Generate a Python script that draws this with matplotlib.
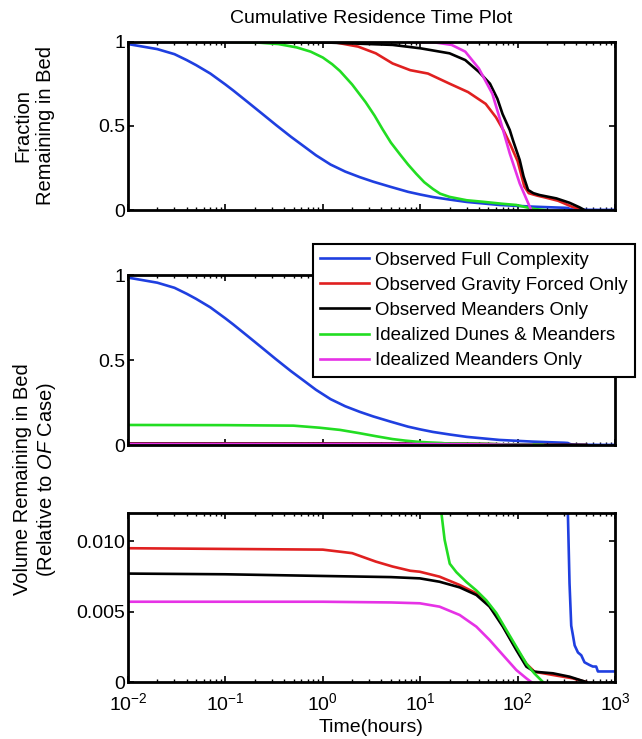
import matplotlib
matplotlib.use("Agg")
import matplotlib.pyplot as plt
from matplotlib.ticker import LogLocator, NullFormatter

plt.rcParams["font.family"] = ["Liberation Sans", "DejaVu Sans"]
plt.rcParams["mathtext.fontset"] = "custom"
plt.rcParams["mathtext.rm"] = "Liberation Sans"
plt.rcParams["mathtext.it"] = "Liberation Sans:italic"
plt.rcParams["mathtext.bf"] = "Liberation Sans:bold"

labels = ["Observed Full Complexity", "Observed Gravity Forced Only",
          "Observed Meanders Only", "Idealized Dunes & Meanders",
          "Idealized Meanders Only"]
colors = ["#1f3fe0", "#e02020", "#000000", "#22dd22", "#e632e6"]

# Observed full complexity is the reference case: fraction == relative volume
t_blue = [0.01, 0.02, 0.03, 0.04, 0.05, 0.07, 0.1, 0.12, 0.17, 0.24, 0.33, 0.47, 0.65,
          0.85, 1.2, 1.7, 2.4, 3.3, 5, 7.5, 10, 13.5, 20, 30, 65, 143, 250, 300, 328,
          341, 355, 370, 385, 416, 450, 486, 550, 592, 640, 667, 1000]
v_blue = [0.985, 0.955, 0.925, 0.89, 0.86, 0.81, 0.745, 0.71, 0.64, 0.57, 0.505, 0.435,
          0.375, 0.325, 0.27, 0.228, 0.195, 0.168, 0.137, 0.108, 0.092, 0.077, 0.062,
          0.048, 0.03, 0.02, 0.015, 0.0135, 0.012, 0.007, 0.004, 0.0033, 0.0026,
          0.0021, 0.0019, 0.0014, 0.0012, 0.0011, 0.0011, 0.00075, 0.00075]

# fraction remaining (top panel)
t_red_f = [0.01, 1.2, 2.3, 3.5, 5.2, 7.9, 12, 20, 31, 47, 60, 72, 84, 100, 110, 117,
           130, 160, 190, 260, 360, 460]
f_red = [1.0, 1.0, 0.97, 0.93, 0.87, 0.83, 0.81, 0.75, 0.70, 0.63, 0.55, 0.47, 0.39,
         0.29, 0.2, 0.14, 0.1, 0.085, 0.075, 0.055, 0.02, 0.0]
t_blk_f = [0.01, 1, 5.2, 10, 20, 29, 40, 52, 62, 70, 83, 90, 105, 115, 128, 145, 168,
           250, 341, 432, 485]
f_blk = [1.0, 0.995, 0.98, 0.96, 0.93, 0.89, 0.82, 0.75, 0.66, 0.57, 0.475, 0.41,
         0.297, 0.2, 0.119, 0.1, 0.089, 0.069, 0.043, 0.016, 0.0]
t_grn_f = [0.01, 0.1, 0.2, 0.35, 0.54, 0.75, 1.0, 1.25, 1.5, 2.0, 2.75, 3.4, 4.1, 5.0,
           6.2, 7.5, 9.1, 11, 13.5, 16, 20, 30, 44, 70, 97, 123, 150, 190]
f_grn = [1.0, 1.0, 0.995, 0.985, 0.965, 0.94, 0.905, 0.865, 0.825, 0.745, 0.64, 0.56,
         0.48, 0.4, 0.33, 0.27, 0.215, 0.165, 0.125, 0.097, 0.078, 0.058, 0.049,
         0.037, 0.03, 0.016, 0.006, 0.0]
t_mag_f = [0.01, 5, 14, 21, 29, 40, 55, 65, 83, 105, 120, 133, 138]
f_mag = [1.0, 1.0, 0.995, 0.98, 0.94, 0.84, 0.69, 0.55, 0.336, 0.158, 0.08, 0.02, 0.0]

# volume relative to OF case (middle and bottom panels)
t_red_v = [0.01, 1.0, 2, 3.5, 5.2, 7.9, 9.9, 15.8, 25.4, 37.7, 47.7, 65.3, 89.5, 123,
           149, 230, 369, 507]
v_red = [0.0095, 0.0094, 0.00915, 0.00855, 0.0082, 0.0079, 0.00783, 0.00748, 0.00689,
         0.0063, 0.0057, 0.0044, 0.00275, 0.0013, 0.00073, 0.0005, 0.00026, 0.0]
t_blk_v = [0.01, 0.1, 1, 5, 9.9, 15.8, 25.4, 37.7, 51.6, 70.6, 97, 123, 149, 230, 341, 507]
v_blk = [0.0077, 0.00765, 0.00753, 0.00745, 0.00736, 0.00712, 0.00672, 0.00618,
         0.00535, 0.00393, 0.00227, 0.00109, 0.00073, 0.00062, 0.00038, 0.0]
t_grn_v = [0.01, 0.1, 0.5, 0.92, 1.5, 2.36, 3.5, 5.2, 7, 9, 12, 16.5, 17.8, 20.1, 23.5,
           29.8, 37.7, 47.7, 60.4, 76.5, 97, 123, 149, 182]
v_grn = [0.118, 0.117, 0.114, 0.102, 0.089, 0.07, 0.052, 0.035, 0.026, 0.02, 0.0155,
         0.012, 0.0101, 0.0084, 0.0078, 0.0071, 0.0065, 0.0058, 0.0049, 0.0037, 0.0025,
         0.0013, 0.0006, 0.0]
t_mag_v = [0.01, 1, 5, 9.9, 15.8, 25.4, 37.7, 51.6, 70.6, 97, 123, 138]
v_mag = [0.0057, 0.0057, 0.00565, 0.00559, 0.00535, 0.00476, 0.00393, 0.00298,
         0.00192, 0.00085, 0.00026, 0.0]

frac_series = [(t_blue, v_blue), (t_red_f, f_red), (t_blk_f, f_blk),
               (t_grn_f, f_grn), (t_mag_f, f_mag)]
vol_series = [(t_blue, v_blue), (t_red_v, v_red), (t_blk_v, v_blk),
              (t_grn_v, v_grn), (t_mag_v, v_mag)]

fig = plt.figure(figsize=(6.42, 7.39), dpi=100)
ax_top = fig.add_axes([0.1994, 0.7158, 0.7586, 0.228])
ax_mid = fig.add_axes([0.1994, 0.3978, 0.7586, 0.230])
ax_bot = fig.add_axes([0.1994, 0.0771, 0.7586, 0.2287])

for (t, v), c in zip(frac_series, colors):
    ax_top.plot(t, v, color=c, lw=1.9)
handles = []
for (t, v), c, lab in zip(vol_series, colors, labels):
    h, = ax_mid.plot(t, v, color=c, lw=1.9, label=lab)
    handles.append(h)
    ax_bot.plot(t, v, color=c, lw=1.9)

for ax in (ax_top, ax_mid, ax_bot):
    ax.set_xscale("log")
    ax.set_xlim(1e-2, 1e3)
    ax.xaxis.set_major_locator(LogLocator(base=10, numticks=10))
    ax.xaxis.set_minor_locator(LogLocator(base=10, subs=range(2, 10), numticks=10))
    ax.xaxis.set_minor_formatter(NullFormatter())
    ax.tick_params(which="both", direction="in", top=True, right=True, labelsize=14)
    ax.tick_params(axis="y", pad=2)
    ax.tick_params(axis="x", pad=7)
    ax.tick_params(which="major", length=4, width=1.2)
    ax.tick_params(which="minor", length=2, width=1)
    for s in ax.spines.values():
        s.set_linewidth(2)

for ax in (ax_top, ax_mid):
    ax.set_ylim(0, 1)
    ax.set_yticks([0, 0.5, 1])
    ax.set_yticklabels(["0", "0.5", "1"])
    ax.tick_params(labelbottom=False)

ax_bot.set_ylim(0, 0.012)
ax_bot.set_yticks([0, 0.005, 0.010])
ax_bot.set_yticklabels(["0", "0.005", "0.010"])
ax_bot.set_xlabel("Time(hours)", fontsize=14, labelpad=4)

ax_top.set_title("Cumulative Residence Time Plot", fontsize=14, pad=13)

fig.text(0.053, 0.5 * (0.7158 + 0.9438), "Fraction\nRemaining in Bed", rotation=90,
         ha="center", va="center", fontsize=14.5, multialignment="center")
fig.text(0.055, 0.352, "Volume Remaining in Bed\n(Relative to $\\mathit{OF}$ Case)",
         rotation=90, ha="center", va="center", fontsize=14.5, multialignment="center")

leg = fig.legend(handles=handles, loc="upper left", bbox_to_anchor=(0.4875, 0.6698),
                 fontsize=13.5, frameon=True, fancybox=False, framealpha=1,
                 edgecolor="black", borderpad=0.4, labelspacing=0.43,
                 handlelength=2.6, handletextpad=0.3, borderaxespad=0)
leg.get_frame().set_linewidth(1.5)

fig.savefig("out.png", dpi=100)
